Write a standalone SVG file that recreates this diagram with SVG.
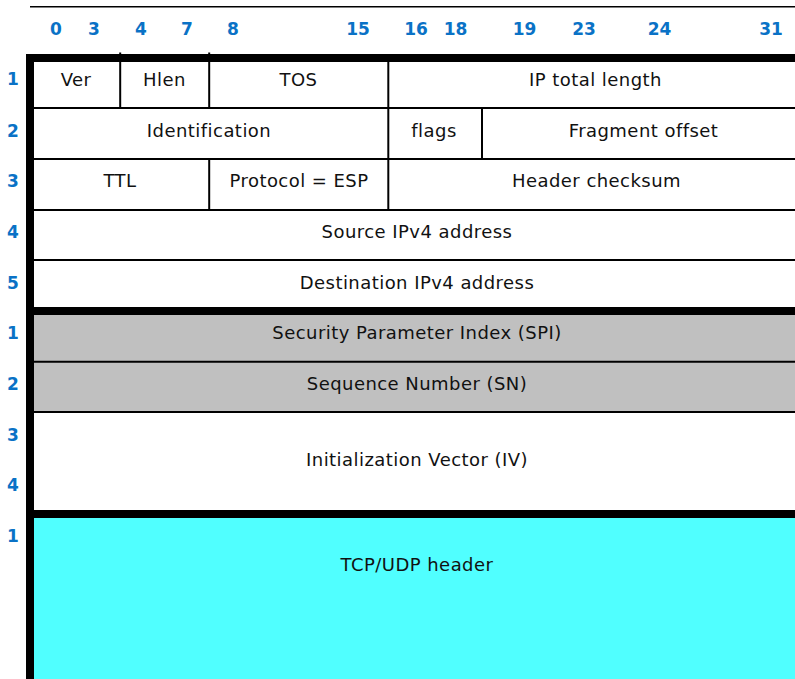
<svg xmlns="http://www.w3.org/2000/svg" width="795" height="679" viewBox="0 0 795 679">
<style>
.num{font-family:"DejaVu Sans","Liberation Sans",sans-serif;font-weight:bold;font-size:17px;fill:#0a72c6;text-anchor:middle}
.lbl{font-family:"DejaVu Sans","Liberation Sans",sans-serif;font-size:18px;fill:#111;text-anchor:middle;letter-spacing:0.45px}
.thin{stroke:#000;stroke-width:2;fill:none}
.thick{fill:#000}
</style>
<rect width="795" height="679" fill="#fff"/>
<line x1="30" y1="6.7" x2="795" y2="6.7" stroke="#000" stroke-width="1.5"/>
<g id="bit-numbers">
<text class="num" x="56" y="35">0</text>
<text class="num" x="94" y="35">3</text>
<text class="num" x="141" y="35">4</text>
<text class="num" x="187" y="35">7</text>
<text class="num" x="233" y="35">8</text>
<text class="num" x="358" y="35">15</text>
<text class="num" x="416" y="35">16</text>
<text class="num" x="455.5" y="35">18</text>
<text class="num" x="524.5" y="35">19</text>
<text class="num" x="584" y="35">23</text>
<text class="num" x="659.5" y="35">24</text>
<text class="num" x="771" y="35">31</text>
</g>
<g id="row-numbers">
<text class="num" x="13" y="85">1</text>
<text class="num" x="13" y="137">2</text>
<text class="num" x="13" y="187">3</text>
<text class="num" x="13" y="238">4</text>
<text class="num" x="13" y="289">5</text>
<text class="num" x="13" y="339">1</text>
<text class="num" x="13" y="390">2</text>
<text class="num" x="13" y="441">3</text>
<text class="num" x="13" y="491">4</text>
<text class="num" x="13" y="541.5">1</text>
</g>
<g id="fills">
<rect x="34" y="315" width="761" height="47" fill="#c0c0c0"/>
<rect x="34" y="362" width="761" height="50" fill="#c0c0c0"/>
<rect x="34" y="518" width="761" height="161" fill="#50ffff"/>
</g>
<g id="connectors">
<line class="thin" x1="34" y1="108" x2="795" y2="108"/>
<line class="thin" x1="34" y1="159" x2="795" y2="159"/>
<line class="thin" x1="34" y1="210" x2="795" y2="210"/>
<line class="thin" x1="34" y1="260" x2="795" y2="260"/>
<line class="thin" x1="34" y1="361.8" x2="795" y2="361.8"/>
<line class="thin" x1="34" y1="412" x2="795" y2="412"/>
<line class="thin" x1="120.2" y1="52.5" x2="120.2" y2="108"/>
<line class="thin" x1="209.2" y1="52.5" x2="209.2" y2="108"/>
<line class="thin" x1="209.2" y1="159" x2="209.2" y2="210"/>
<line class="thin" x1="388.3" y1="58" x2="388.3" y2="210"/>
<line class="thin" x1="482" y1="108" x2="482" y2="159"/>
<rect class="thick" x="26" y="54" width="769" height="8"/>
<rect class="thick" x="26" y="307" width="769" height="8"/>
<rect class="thick" x="26" y="510" width="769" height="8"/>
<rect class="thick" x="26" y="54" width="8" height="625"/>
</g>
<g id="ver"><text class="lbl" x="76" y="86">Ver</text></g>
<g id="hlen"><text class="lbl" x="164.5" y="86">Hlen</text></g>
<g id="tos"><text class="lbl" x="298.5" y="86">TOS</text></g>
<g id="total-length"><text class="lbl" x="595.5" y="86">IP total length</text></g>
<g id="identification"><text class="lbl" x="209" y="137">Identification</text></g>
<g id="flags"><text class="lbl" x="434" y="137">flags</text></g>
<g id="fragment-offset"><text class="lbl" x="643.5" y="137">Fragment offset</text></g>
<g id="ttl"><text class="lbl" x="120" y="187">TTL</text></g>
<g id="protocol"><text class="lbl" x="299" y="187">Protocol = ESP</text></g>
<g id="checksum"><text class="lbl" x="596.5" y="187">Header checksum</text></g>
<g id="src"><text class="lbl" x="417" y="238">Source IPv4 address</text></g>
<g id="dst"><text class="lbl" x="417" y="289">Destination IPv4 address</text></g>
<g id="spi"><text class="lbl" x="417" y="338.5">Security Parameter Index (SPI)</text></g>
<g id="sn"><text class="lbl" x="417" y="390">Sequence Number (SN)</text></g>
<g id="iv"><text class="lbl" x="417" y="466">Initialization Vector (IV)</text></g>
<g id="tcpudp"><text class="lbl" x="417" y="570.5">TCP/UDP header</text></g>
</svg>
